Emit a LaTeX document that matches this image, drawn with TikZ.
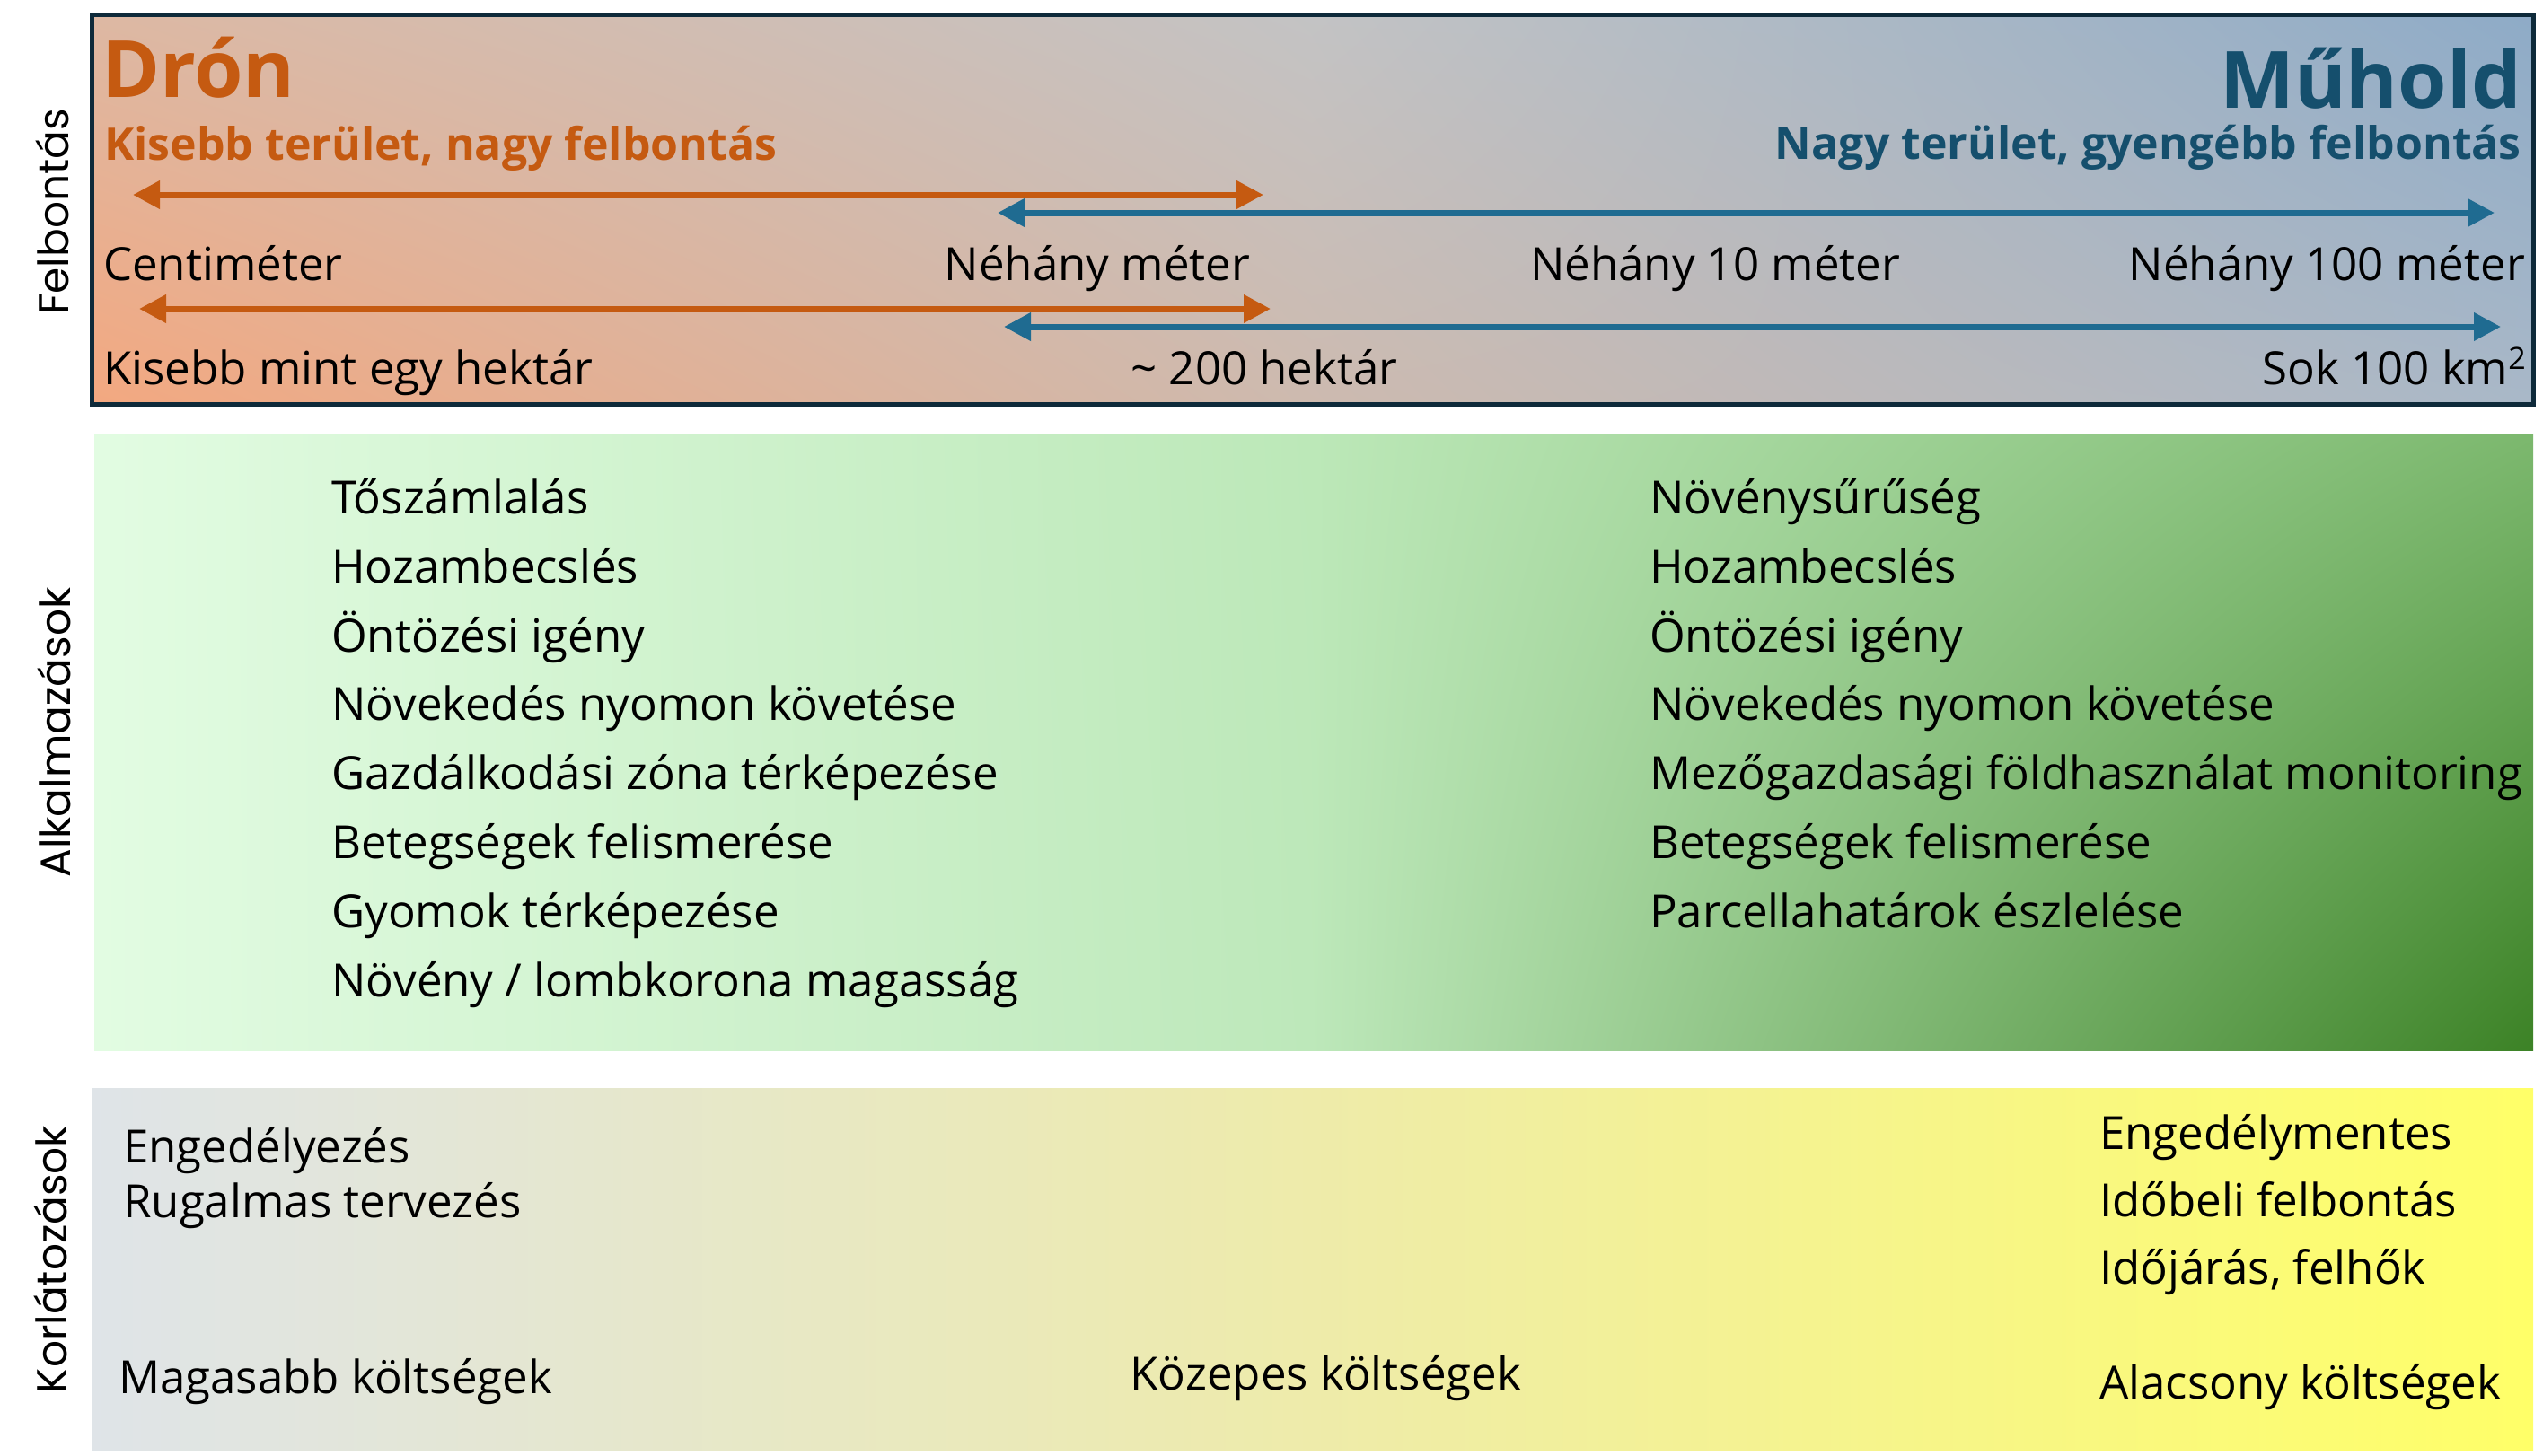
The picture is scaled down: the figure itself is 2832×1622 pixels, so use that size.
\documentclass[tikz,border=0pt]{standalone}
\usepackage{fontspec}
\setmainfont{Open Sans}
\newfontfamily\labelfont{Poppins}
\usetikzlibrary{arrows.meta,shadings}
\definecolor{orng}{HTML}{C55A11}
\definecolor{bluetxt}{HTML}{154F6D}
\definecolor{bluearr}{HTML}{1F6B91}
\definecolor{navy}{HTML}{0E2A3A}
\definecolor{tUL}{RGB}{221,184,163}
\definecolor{tLL}{RGB}{243,168,128}
\definecolor{tUM}{RGB}{195,195,196}
\definecolor{tLM}{RGB}{205,186,175}
\definecolor{tUR}{RGB}{142,171,199}
\definecolor{tLR}{RGB}{169,184,200}
\definecolor{gL}{RGB}{226,252,226}
\definecolor{gUM}{RGB}{188,232,184}
\definecolor{gLM}{RGB}{189,232,186}
\definecolor{gUR}{RGB}{124,184,110}
\definecolor{gLR}{RGB}{60,130,38}
\definecolor{yL}{RGB}{223,228,232}
\definecolor{yM}{RGB}{238,235,170}
\definecolor{yR}{RGB}{255,255,104}
\tikzset{
  txt/.style={inner sep=0pt, text=black, font=\fontsize{51}{51}\selectfont},
  titlebig/.style={inner sep=0pt, font=\bfseries\fontsize{88}{88}\selectfont},
  titlesub/.style={inner sep=0pt, font=\bfseries\fontsize{50}{50}\selectfont},
  sidelabel/.style={inner sep=0pt, rotate=90, font=\labelfont\fontsize{47}{47}\selectfont},
  oarrow/.style={draw=orng, line width=7pt, {Triangle[length=30pt,width=30pt]}-{Triangle[length=30pt,width=30pt]}},
  barrow/.style={draw=bluearr, line width=7pt, {Triangle[length=30pt,width=30pt]}-{Triangle[length=30pt,width=30pt]}},
}
\begin{document}
\begin{tikzpicture}[x=1pt,y=-1pt]
\useasboundingbox (0,0) rectangle (2832,1622);
\fill[white] (0,0) rectangle (2832,1622);

% ---------- top panel ----------
\shade[upper left=tUL, lower left=tLL, upper right=tUM, lower right=tLM]
  (102.5,16.5) rectangle (1461,450);
\shade[upper left=tUM, lower left=tLM, upper right=tUR, lower right=tLR]
  (1460,16.5) rectangle (2821,450);
\draw[navy, line width=5pt] (102.5,16.5) rectangle (2821,450);

\node[sidelabel] (lfel) at (58,236) {Felbontás};

\node[titlebig, text=orng, anchor=base west] (dron) at (113,108) {Drón};
\node[titlesub, text=orng, anchor=base west] (dronsub) at (116,178) {Kisebb terület, nagy felbontás};
\node[titlebig, text=bluetxt, anchor=base east] (muhold) at (2808,120) {Műhold};
\node[titlesub, text=bluetxt, anchor=base east] (muholdsub) at (2808,177) {Nagy terület, gyengébb felbontás};

\coordinate (o1a) at (148,217); \coordinate (o1b) at (1407,217);
\coordinate (b1a) at (1111,237); \coordinate (b1b) at (2778,237);
\coordinate (o2a) at (155,344); \coordinate (o2b) at (1415,344);
\coordinate (b2a) at (1118,364); \coordinate (b2b) at (2785,364);
\draw[oarrow] (o1a) -- (o1b);
\draw[barrow] (b1a) -- (b1b);
\draw[oarrow] (o2a) -- (o2b);
\draw[barrow] (b2a) -- (b2b);

\node[txt, anchor=base west] (cm) at (115,312) {Centiméter};
\node[txt, anchor=base] (nm) at (1222,312) {Néhány méter};
\node[txt, anchor=base] (n10) at (1910,312) {Néhány 10 méter};
\node[txt, anchor=base east] (n100) at (2812,312) {Néhány 100 méter};
\node[txt, anchor=base west] (ha) at (115,428) {Kisebb mint egy hektár};
\node[txt, anchor=base] (h200) at (1408,428) {\textasciitilde\ 200 hektár};
\node[txt, anchor=base east] (km) at (2813,428) {Sok 100 km\raisebox{17pt}{\fontsize{34}{34}\selectfont 2}};

% ---------- middle panel ----------
\shade[upper left=gL, lower left=gL, upper right=gUM, lower right=gLM]
  (105,484) rectangle (1461,1170);
\shade[upper left=gUM, lower left=gLM, upper right=gUR, lower right=gLR]
  (1460,484) rectangle (2821,1170);

\node[sidelabel] (lalk) at (60,816) {Alkalmazások};

\node[txt, anchor=base west] (a1) at (369,572) {Tőszámlalás};
\node[txt, anchor=base west] (a2) at (369,649) {Hozambecslés};
\node[txt, anchor=base west] (a3) at (369,726) {Öntözési igény};
\node[txt, anchor=base west] (a4) at (369,802) {Növekedés nyomon követése};
\node[txt, anchor=base west] (a5) at (369,879) {Gazdálkodási zóna térképezése};
\node[txt, anchor=base west] (a6) at (369,956) {Betegségek felismerése};
\node[txt, anchor=base west] (a7) at (369,1033) {Gyomok térképezése};
\node[txt, anchor=base west] (a8) at (369,1110) {Növény / lombkorona magasság};

\node[txt, anchor=base west] (s1) at (1837,572) {Növénysűrűség};
\node[txt, anchor=base west] (s2) at (1837,649) {Hozambecslés};
\node[txt, anchor=base west] (s3) at (1837,726) {Öntözési igény};
\node[txt, anchor=base west] (s4) at (1837,802) {Növekedés nyomon követése};
\node[txt, anchor=base west] (s5) at (1837,879) {Mezőgazdasági földhasználat monitoring};
\node[txt, anchor=base west] (s6) at (1837,956) {Betegségek felismerése};
\node[txt, anchor=base west] (s7) at (1837,1033) {Parcellahatárok észlelése};

% ---------- bottom panel ----------
\shade[left color=yL, right color=yM]
  (102,1212) rectangle (1461,1615);
\shade[left color=yM, right color=yR]
  (1460,1212) rectangle (2821,1615);

\node[sidelabel] (lkor) at (56,1403) {Korlátozások};

\node[txt, anchor=base west] (k1) at (137,1295) {Engedélyezés};
\node[txt, anchor=base west] (k2) at (137,1356) {Rugalmas tervezés};
\node[txt, anchor=base west] (k3) at (132,1552) {Magasabb költségek};
\node[txt, anchor=base west] (k4) at (1258,1548) {Közepes költségek};
\node[txt, anchor=base west] (m1) at (2338,1280) {Engedélymentes};
\node[txt, anchor=base west] (m2) at (2338,1355) {Időbeli felbontás};
\node[txt, anchor=base west] (m3) at (2338,1430) {Időjárás, felhők};
\node[txt, anchor=base west] (m4) at (2338,1558) {Alacsony költségek};
\end{tikzpicture}
\end{document}
